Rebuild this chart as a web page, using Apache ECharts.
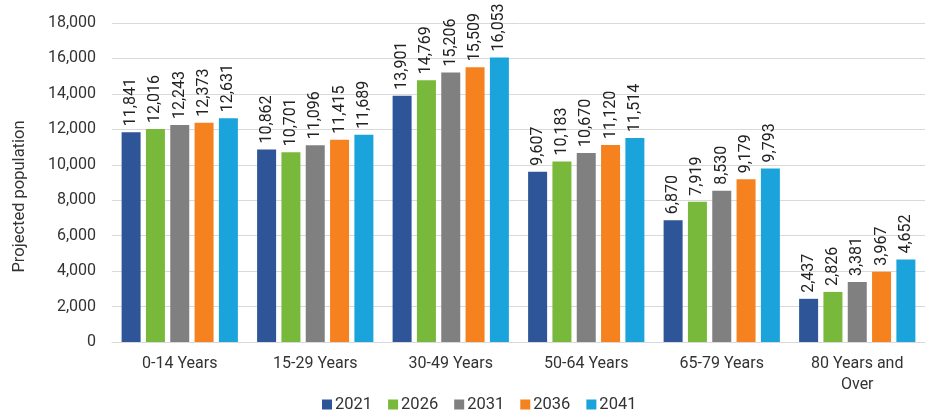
<!DOCTYPE html>
<html>
<head>
<meta charset="utf-8">
<script src="https://cdn.jsdelivr.net/npm/echarts@6/dist/echarts.min.js"></script>
<style>
  html, body { margin: 0; padding: 0; background: #fff; }
  #chart { width: 928px; height: 418px; }
</style>
</head>
<body>
<div id="chart"></div>
<script>
// Age groups on the x axis
const categories = ['0-14 Years', '15-29 Years', '30-49 Years', '50-64 Years', '65-79 Years', '80 Years and\nOver'];

// Projected population by year
const years = ['2021', '2026', '2031', '2036', '2041'];
const v2021 = [11841, 10862, 13901, 9607, 6870, 2437];
const v2026 = [12016, 10701, 14769, 10183, 7919, 2826];
const v2031 = [12243, 11096, 15206, 10670, 8530, 3381];
const v2036 = [12373, 11415, 15509, 11120, 9179, 3967];
const v2041 = [12631, 11689, 16053, 11514, 9793, 4652];

// Y axis ticks
const yTicks = [0, 2000, 4000, 6000, 8000, 10000, 12000, 14000, 16000, 18000];

const colors = ['#2E5597', '#78B83A', '#808080', '#F5821F', '#1BA3DC'];
const seriesValues = [v2021, v2026, v2031, v2036, v2041];

const fmt = n => n.toLocaleString('en-US');

const chart = echarts.init(document.getElementById('chart'));
chart.setOption({
  animation: false,
  textStyle: { fontFamily: 'Roboto' },
  color: colors,
  grid: { left: 112, right: 3, top: 23, bottom: 76 },
  legend: {
    bottom: 0,
    left: 317,
    itemWidth: 10,
    itemHeight: 10,
    itemGap: 16,
    icon: 'rect',
    textStyle: { fontSize: 16.5, color: '#333', padding: [0, 0, 0, -2] },
    data: years
  },
  xAxis: {
    type: 'category',
    data: categories,
    axisLine: { lineStyle: { color: '#d9d9d9', width: 1 } },
    axisTick: { show: false },
    axisLabel: { fontSize: 16, color: '#333', margin: 11, lineHeight: 21, interval: 0 }
  },
  yAxis: {
    type: 'value',
    min: yTicks[0],
    max: yTicks[yTicks.length - 1],
    interval: 2000,
    name: 'Projected population',
    nameLocation: 'middle',
    nameGap: 84,
    nameTextStyle: { fontSize: 16.5, color: '#333', padding: [0, 28, 0, 0] },
    axisLabel: { fontSize: 16, color: '#333', margin: 16, formatter: v => fmt(v) },
    splitLine: { lineStyle: { color: '#d9d9d9' } },
    axisLine: { show: false },
    axisTick: { show: false }
  },
  series: seriesValues.map((vals, i) => ({
    name: years[i],
    type: 'bar',
    data: vals,
    barWidth: 19,
    barGap: '28%',
    barCategoryGap: '15%',
    label: {
      show: true,
      position: 'top',
      rotate: 90,
      align: 'left',
      verticalAlign: 'middle',
      distance: 6,
      fontSize: 16,
      color: '#222',
      formatter: p => fmt(p.value)
    }
  }))
});
</script>
</body>
</html>
